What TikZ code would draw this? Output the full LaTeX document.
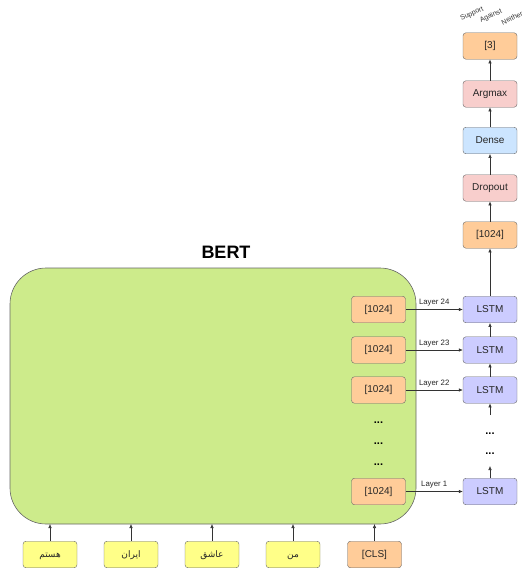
\documentclass[tikz,border=0pt]{standalone}
\usepackage{fontspec}
\setmainfont{Liberation Sans}
\newfontfamily\arabicfont[Script=Arabic]{DejaVu Sans}
\TeXXeTstate=1
\usetikzlibrary{arrows.meta}
\definecolor{bertgreen}{HTML}{CDEB8B}
\definecolor{orangebox}{HTML}{FFCC99}
\definecolor{lstmbox}{HTML}{CCCCFF}
\definecolor{pinkbox}{HTML}{F8CECC}
\definecolor{bluebox}{HTML}{CCE5FF}
\definecolor{yellowbox}{HTML}{FFFF88}
\definecolor{bordergray}{HTML}{666666}
\definecolor{linegray}{HTML}{333333}
\tikzset{
  box/.style={draw=bordergray, rounded corners=3pt, minimum width=54pt, minimum height=26.5pt, inner sep=0pt, font=\fontsize{10}{12}\selectfont, text=black!85},
  featbox/.style={box, fill=orangebox},
  lstmnode/.style={box, fill=lstmbox},
  pinknode/.style={box, fill=pinkbox},
  bluenode/.style={box, fill=bluebox},
  inbox/.style={box, fill=yellowbox, text height=7pt, text depth=2pt, font=\arabicfont\fontsize{9}{11}\selectfont},
  conn/.style={draw=linegray, line width=0.6pt, -{Latex[length=4pt,width=3.6pt]}},
  layerlbl/.style={font=\fontsize{7.8}{9}\selectfont, text=black!85, inner sep=1pt, above=2pt},
  dotsnode/.style={font=\bfseries\fontsize{11}{12}\selectfont, inner sep=0pt},
  clslbl/.style={font=\fontsize{7}{8}\selectfont, text=black!80, rotate=25, inner sep=0pt}
}
\begin{document}
\begin{tikzpicture}[x=1pt,y=-1pt]
\useasboundingbox (0,0) rectangle (522,571);
% BERT block
\draw[draw=bordergray, fill=bertgreen, line width=0.6pt, rounded corners=36pt] (10,268) rectangle (416,524);
\node[font=\bfseries\fontsize{18}{20}\selectfont] (berttitle) at (226,252) {BERT};
% BERT layer outputs
\node[featbox] (f24) at (378.5,309.5) {[1024]};
\node[featbox] (f23) at (378.5,350) {[1024]};
\node[featbox] (f22) at (378.5,390) {[1024]};
\node[featbox] (f1) at (378.5,491.5) {[1024]};
\node[dotsnode] (d1) at (378.5,423) {...};
\node[dotsnode] (d2) at (378.5,444) {...};
\node[dotsnode] (d3) at (378.5,465) {...};
% LSTMs
\node[lstmnode] (l24) at (490,309.5) {LSTM};
\node[lstmnode] (l23) at (490,350) {LSTM};
\node[lstmnode] (l22) at (490,390) {LSTM};
\node[lstmnode] (l1) at (490,491.5) {LSTM};
\node[dotsnode] (rd1) at (490,434) {...};
\node[dotsnode] (rd2) at (490,454) {...};
\coordinate (dtop) at (490,415);
\coordinate (dbot) at (490,466);
% head
\node[featbox] (h1024) at (490,235) {[1024]};
\node[pinknode] (drop) at (490,188) {Dropout};
\node[bluenode] (dense) at (490,140.5) {Dense};
\node[pinknode] (argmax) at (490,94) {Argmax};
\node[featbox] (out) at (490,46) {[3]};
\node[clslbl] (sup) at (472,14) {Support};
\node[clslbl] (aga) at (491,16) {Against};
\node[clslbl] (nei) at (512,18) {Neither};
% inputs
\node[inbox] (w1) at (50,554.5) {\beginR هستم\endR};
\node[inbox] (w2) at (131,554.5) {\beginR ایران\endR};
\node[inbox] (w3) at (212,554.5) {\beginR عاشق\endR};
\node[inbox] (w4) at (293,554.5) {\beginR من\endR};
\node[featbox] (cls) at (374.5,554.5) {[CLS]};
\foreach \w/\x in {w1/50,w2/131,w3/212,w4/293,cls/374.5}
  \draw[conn] (\w.north) -- (\x,524);
% horizontal connectors
\draw[conn] (f24.east) -- node[layerlbl] {Layer 24} (l24.west);
\draw[conn] (f23.east) -- node[layerlbl] {Layer 23} (l23.west);
\draw[conn] (f22.east) -- node[layerlbl] {Layer 22} (l22.west);
\draw[conn] (f1.east) -- node[layerlbl] {Layer 1} (l1.west);
% vertical connectors
\draw[conn] (l23.north) -- (l24.south);
\draw[conn] (l22.north) -- (l23.south);
\draw[conn] (dtop) -- (l22.south);
\draw[conn] (l1.north) -- (dbot);
\draw[conn] (l24.north) -- (h1024.south);
\draw[conn] (h1024.north) -- (drop.south);
\draw[conn] (drop.north) -- (dense.south);
\draw[conn] (dense.north) -- (argmax.south);
\draw[conn] (argmax.north) -- (out.south);
\end{tikzpicture}
\end{document}
